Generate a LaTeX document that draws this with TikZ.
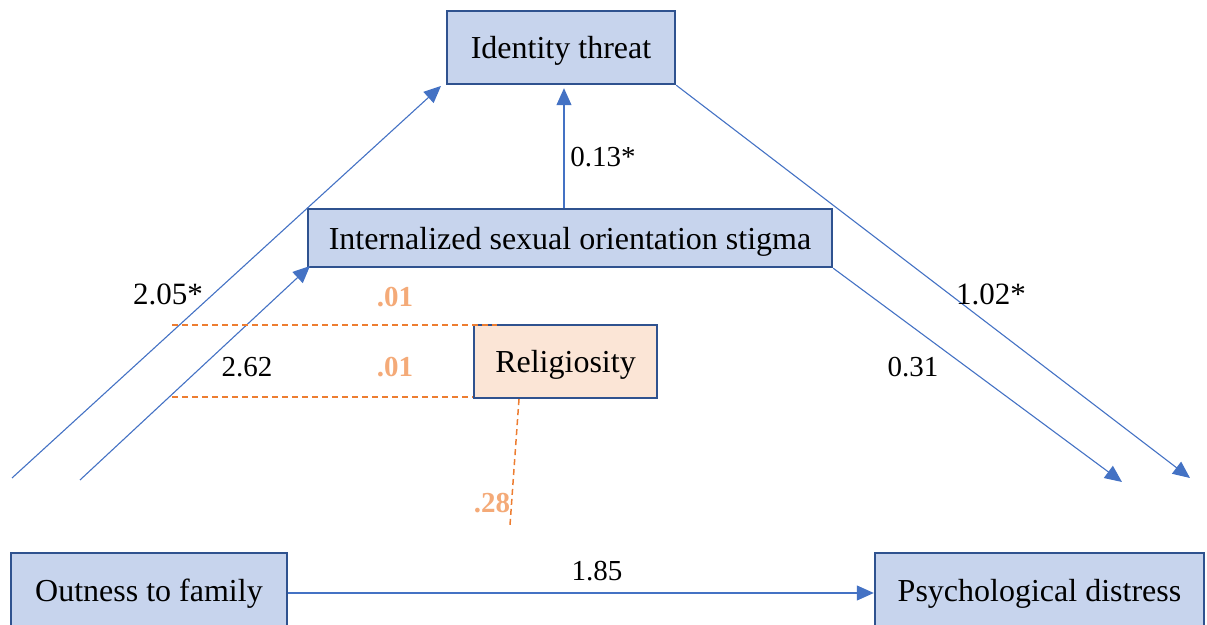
\documentclass[tikz,border=0pt]{standalone}
\usepackage{fontspec}
\setmainfont{Liberation Serif}
\usetikzlibrary{arrows.meta}
\definecolor{boxfill}{RGB}{199,212,237}
\definecolor{boxline}{RGB}{47,82,143}
\definecolor{relfill}{RGB}{251,229,214}
\definecolor{arr}{RGB}{68,114,196}
\definecolor{dash}{RGB}{237,125,49}
\definecolor{orlab}{RGB}{244,170,120}
\tikzset{
  box/.style={draw=boxline, line width=1.2pt, fill=boxfill, inner sep=0pt, font=\fontsize{16}{19}\selectfont, text height=13.5pt, text depth=2.4pt},
  lowbox/.style={box, text height=12.5pt},
  relbox/.style={box, fill=relfill},
  conn/.style={draw=arr, line width=0.55pt, -{Triangle[length=8.5pt,width=7.5pt]}},
  dline/.style={draw=dash, line width=0.75pt, dash pattern=on 3pt off 2pt},
  num/.style={font=\fontsize{14.5}{17}\selectfont, inner sep=0pt},
  bignum/.style={font=\fontsize{15.5}{18}\selectfont, inner sep=0pt},
  onum/.style={font=\fontsize{14.5}{17}\selectfont\bfseries, text=orlab, inner sep=0pt}
}
\begin{document}
\begin{tikzpicture}[x=0.5pt, y=-0.5pt]
\useasboundingbox (0,0) rectangle (1207,625);
% boxes
\node[box, minimum width=114pt, minimum height=36.5pt] (threat) at (561,47.5) {Identity threat};
\node[box, minimum width=262pt, minimum height=29pt] (stigma) at (570,238) {Internalized sexual orientation stigma};
\node[relbox, minimum width=91.5pt, minimum height=36.5pt] (rel) at (565.5,361.5) {Religiosity};
\node[lowbox, minimum width=138pt, minimum height=38.5pt] (out) at (149,591.5) {Outness to family};
\node[lowbox, minimum width=164.5pt, minimum height=38.5pt] (dist) at (1039.5,591.5) {Psychological distress};
% free ends
\coordinate (s1) at (12,478);
\coordinate (e1) at (441,86);
\coordinate (s2) at (80,480);
\coordinate (e2) at (310,266);
\coordinate (vx) at (564,0);
\coordinate (e3) at (1190,478);
\coordinate (e4) at (1122,482);
\coordinate (d1s) at (172,325);
\coordinate (d1e) at (497,325);
\coordinate (d2s) at (172,397);
\coordinate (d3e) at (510,525);
\coordinate (d3s) at (519,0);
% connectors
\draw[conn] (s1) -- (e1);
\draw[conn] (s2) -- (e2);
\draw[conn, shorten >=1.5pt] (vx |- stigma.north) -- (vx |- threat.south);
\draw[conn] (threat.south east) -- (e3);
\draw[conn] (stigma.south east) -- (e4);
\draw[conn] (out.east |- 0,593) -- (dist.west |- 0,593);
% dashed
\draw[dline] (d1s) -- (d1e);
\draw[dline] (d2s) -- (d2s -| rel.west);
\draw[dline] (d3s |- rel.south) -- (d3e);
% labels
\node[bignum] (l1) at (168,294) {2.05*};
\node[num] (l2) at (247,367) {2.62};
\node[num] (l3) at (603,157) {0.13*};
\node[bignum] (l4) at (991,294) {1.02*};
\node[num] (l5) at (913,367) {0.31};
\node[num] (l6) at (597,571) {1.85};
\node[onum] (o1) at (395,297) {.01};
\node[onum] (o2) at (395,367) {.01};
\node[onum] (o3) at (492,503) {.28};
\end{tikzpicture}
\end{document}
